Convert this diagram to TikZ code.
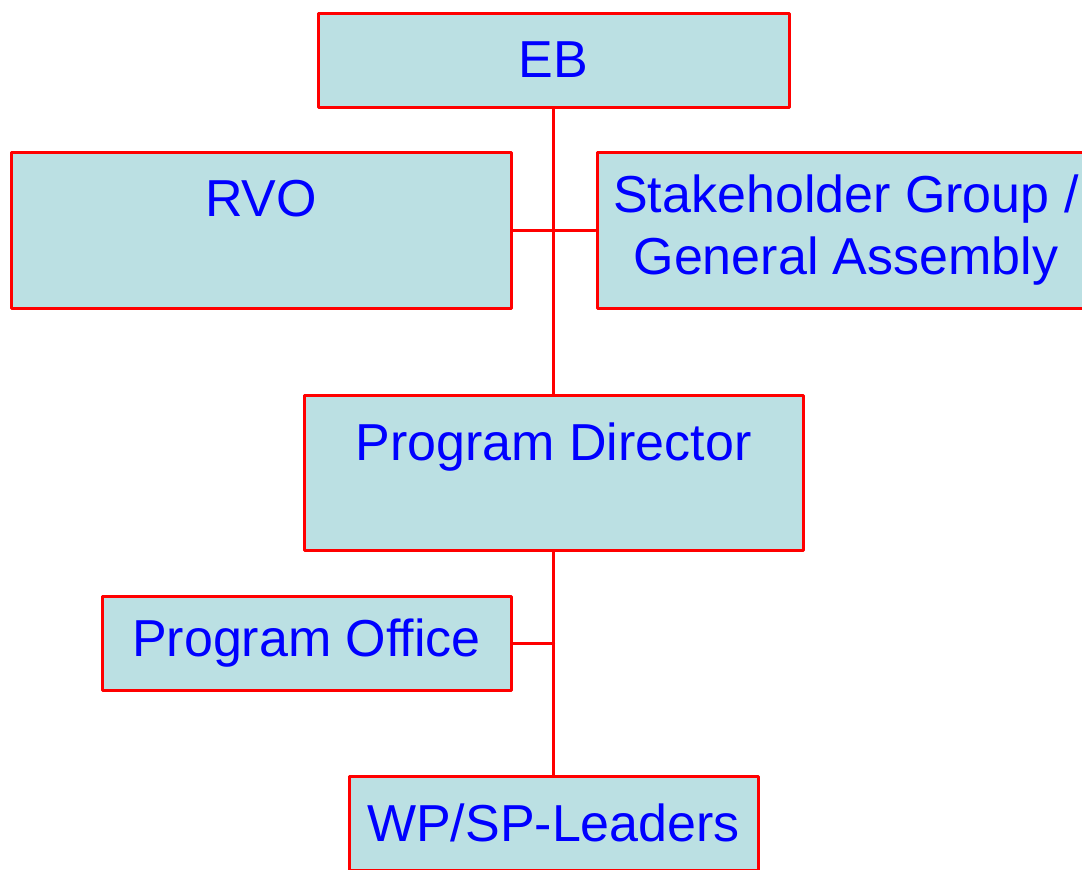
\documentclass[tikz,border=0pt]{standalone}
\usepackage{fontspec}
\setmainfont{Liberation Sans}
\definecolor{boxfill}{HTML}{BBE0E3}

\begin{document}
\begin{tikzpicture}[x=0.5pt, y=-0.5pt, line cap=round, line join=round,
    font=\fontsize{26}{31}\selectfont,
    orgbox/.style={draw=red, fill=boxfill, line width=1.5pt, text=blue, inner sep=0pt, align=center}]
  \clip (0,0) rectangle (1082,869);
  \useasboundingbox (0,0) rectangle (1082,869);
  \node[orgbox, minimum width=235.5pt, minimum height=47pt] (eb) at (553.5,60) {EB};
  \node[orgbox, minimum width=250pt, minimum height=78pt] (rvo) at (261,230) {RVO\\\phantom{G}};
  \node[orgbox, minimum width=249pt, minimum height=78pt] (stake) at (846,230) {Stakeholder Group /\\General Assembly};
  \node[orgbox, minimum width=249.5pt, minimum height=77.5pt] (pd) at (553.5,472.5) {Program Director\\\phantom{G}};
  \node[orgbox, minimum width=204.5pt, minimum height=47pt] (po) at (306.5,643) {Program Office};
  \node[orgbox, minimum width=204.5pt, minimum height=47pt] (wp) at (553.5,823) {WP/SP-Leaders};
  \coordinate (join) at (po.east -| pd.south);
  \draw[red, line width=1.5pt] (eb.south) -- (pd.north);
  \draw[red, line width=1.5pt] (rvo.east) -- (stake.west);
  \draw[red, line width=1.5pt] (pd.south) -- (wp.north);
  \draw[red, line width=1.5pt] (po.east) -- (join);
\end{tikzpicture}
\end{document}
